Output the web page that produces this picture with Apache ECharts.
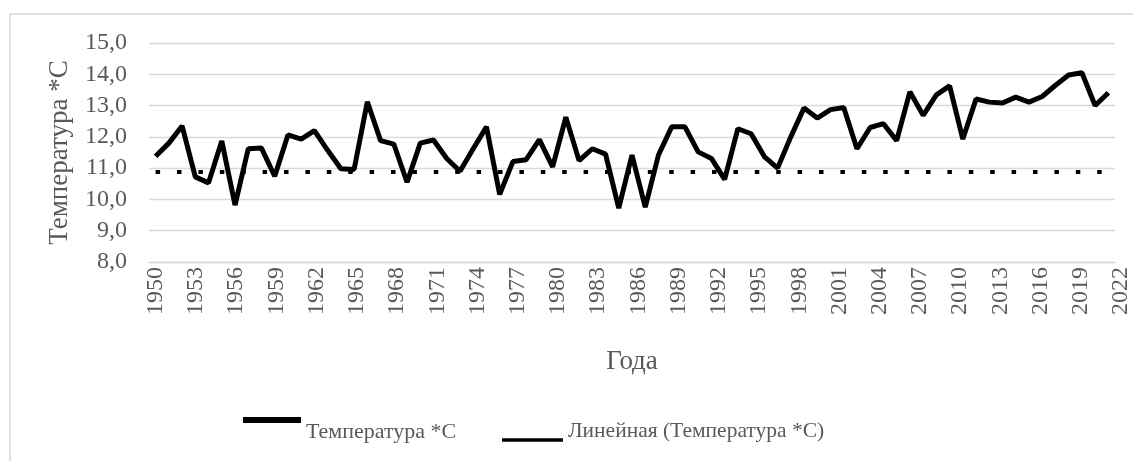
<!DOCTYPE html>
<html>
<head>
<meta charset="utf-8">
<script src="https://cdn.jsdelivr.net/npm/echarts@6/dist/echarts.min.js"></script>
<style>
  html, body { margin: 0; padding: 0; background: #fff; }
  #chart { width: 1133px; height: 461px; }
</style>
</head>
<body>
<div id="chart"></div>
<script>
// годы наблюдений
const years = [
  '1950', '1951', '1952', '1953', '1954', '1955', '1956', '1957', '1958', '1959',
  '1960', '1961', '1962', '1963', '1964', '1965', '1966', '1967', '1968', '1969',
  '1970', '1971', '1972', '1973', '1974', '1975', '1976', '1977', '1978', '1979',
  '1980', '1981', '1982', '1983', '1984', '1985', '1986', '1987', '1988', '1989',
  '1990', '1991', '1992', '1993', '1994', '1995', '1996', '1997', '1998', '1999',
  '2000', '2001', '2002', '2003', '2004', '2005', '2006', '2007', '2008', '2009',
  '2010', '2011', '2012', '2013', '2014', '2015', '2016', '2017', '2018', '2019',
  '2020', '2021', '2022'
]

// среднегодовая температура, *С
const temperature = [
  11.38, 11.8, 12.35, 10.72, 10.53, 11.87, 9.82, 11.62, 11.64, 10.74,
  12.06, 11.93, 12.2, 11.57, 10.98, 10.96, 13.12, 11.88, 11.77, 10.55,
  11.8, 11.9, 11.31, 10.9, 11.62, 12.32, 10.16, 11.21, 11.27, 11.91,
  11.04, 12.63, 11.24, 11.62, 11.45, 9.72, 11.42, 9.75, 11.42, 12.32,
  12.32, 11.52, 11.31, 10.64, 12.26, 12.1, 11.37, 11.0, 12.0, 12.92,
  12.6, 12.87, 12.94, 11.62, 12.3, 12.42, 11.88, 13.44, 12.69, 13.34,
  13.63, 11.93, 13.21, 13.11, 13.08, 13.27, 13.11, 13.29, 13.65, 13.98,
  14.05, 13.0, 13.41
]

// линия тренда: начало и конец
const trendYears = ['1950', '2022']
const trendValues = [10.88, 10.88]

const seriesName = 'Температура *С'
const trendName = 'Линейная (Температура *С)'

const FONT = 'Liberation Serif'
const GREY = '#595959'
const GRID_LINE = '#d9d9d9'

// значки легенды: полоса сверху / снизу относительно текста
const iconTop = 'path://M0,0L58,0L58,6L0,6ZM0,30'
const iconBottom = 'path://M0,0M0,19.25L61,19.25L61,22.75L0,22.75ZM0,24'

const chart = echarts.init(document.getElementById('chart'), null, { renderer: 'canvas' })

chart.setOption({
  animation: false,
  backgroundColor: '#fff',
  textStyle: { fontFamily: FONT },
  graphic: [
    {
      type: 'rect',
      shape: { x: 10, y: 14, width: 1200, height: 500 },
      style: { fill: 'none', stroke: GRID_LINE, lineWidth: 1.5 },
      silent: true,
    },
  ],
  grid: [
    { left: 149, right: 18, top: 43, bottom: 199 },
    // сетка только для подписей лет
    { left: 149, width: 982, top: 43, bottom: 199 },
  ],
  xAxis: [
    {
      type: 'category',
      gridIndex: 0,
      data: years,
      boundaryGap: true,
      name: 'Года',
      nameLocation: 'middle',
      nameGap: 86,
      nameTextStyle: { color: GREY, fontSize: 27, fontFamily: FONT },
      axisLine: { lineStyle: { color: GRID_LINE, width: 1.3 } },
      axisTick: { show: false },
      axisLabel: { show: false },
      splitLine: { show: false },
    },
    {
      type: 'category',
      gridIndex: 1,
      data: years,
      boundaryGap: true,
      axisLine: { show: false },
      axisTick: { show: false },
      splitLine: { show: false },
      axisLabel: {
        interval: 2,
        rotate: 90,
        margin: 5,
        color: GREY,
        fontSize: 24,
        fontFamily: FONT,
      },
    },
  ],
  yAxis: [
    {
      type: 'value',
      gridIndex: 0,
      min: 8,
      max: 15,
      interval: 1,
      name: 'Температура *С',
      nameLocation: 'middle',
      nameGap: 76,
      nameTextStyle: { color: GREY, fontSize: 27, fontFamily: FONT },
      axisLine: { show: false },
      axisTick: { show: false },
      axisLabel: {
        margin: 22,
        color: GREY,
        fontSize: 24,
        fontFamily: FONT,
        formatter: (v) => v.toFixed(1).replace('.', ','),
      },
      splitLine: { lineStyle: { color: GRID_LINE, width: 1.3 } },
    },
    { type: 'value', gridIndex: 1, show: false, min: 8, max: 15 },
  ],
  legend: [
    {
      data: [seriesName],
      left: 243,
      top: 417,
      padding: 0,
      icon: iconTop,
      itemWidth: 58,
      itemHeight: 30,
      textStyle: { color: GREY, fontSize: 22, fontFamily: FONT },
    },
    {
      data: [trendName],
      left: 502,
      top: 419,
      padding: 0,
      icon: iconBottom,
      itemWidth: 61,
      itemHeight: 24,
      textStyle: { color: GREY, fontSize: 21.5, fontFamily: FONT },
    },
  ],
  series: [
    {
      name: seriesName,
      type: 'line',
      xAxisIndex: 0,
      yAxisIndex: 0,
      data: temperature,
      symbol: 'none',
      itemStyle: { color: '#000' },
      lineStyle: { color: '#000', width: 5 },
      silent: true,
    },
    {
      name: trendName,
      type: 'line',
      xAxisIndex: 0,
      yAxisIndex: 0,
      data: trendYears.map((y, i) => [y, trendValues[i]]),
      symbol: 'none',
      itemStyle: { color: '#000' },
      lineStyle: { color: '#000', width: 4, type: [4.5, 16.9] },
      silent: true,
    },
  ],
})
</script>
</body>
</html>
